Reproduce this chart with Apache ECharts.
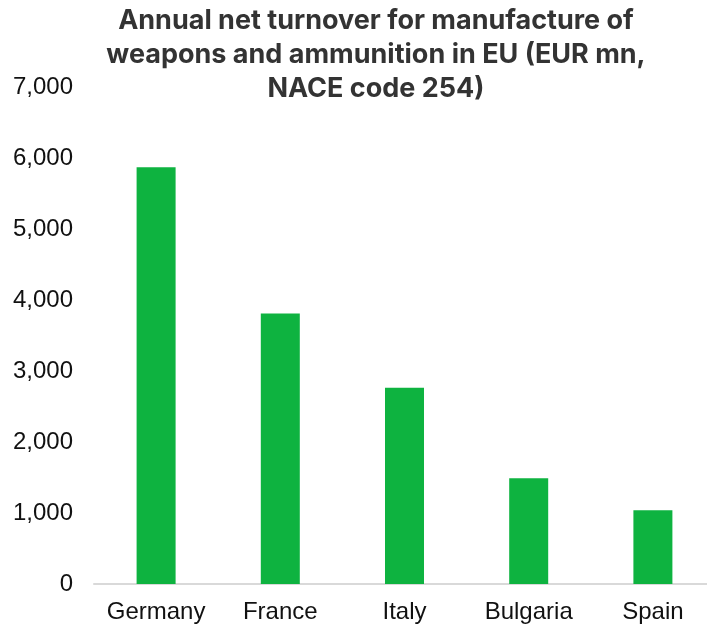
<!DOCTYPE html>
<html>
<head>
<meta charset="utf-8">
<script src="https://cdn.jsdelivr.net/npm/echarts@6/dist/echarts.min.js"></script>
<style>
  html, body { margin: 0; padding: 0; background: #ffffff; overflow: hidden; }
  /* plot area runs slightly past the right edge of the page */
  #chart { width: 715px; height: 628px; }
</style>
</head>
<body>
<div id="chart"></div>
<script>
// Annual net turnover, EUR mn (NACE 25.4)
const countries = ['Germany', 'France', 'Italy', 'Bulgaria', 'Spain'];
const turnover = [5870, 3810, 2765, 1490, 1040];
const yTicks = { min: 0, max: 7000, step: 1000 };

const chart = echarts.init(document.getElementById('chart'), null, { renderer: 'canvas' });

chart.setOption({
  animation: false,
  backgroundColor: '#ffffff',
  title: {
    text: 'Annual net turnover for manufacture of\nweapons and ammunition in EU (EUR mn,\nNACE code 254)',
    left: 376,
    top: 4,
    padding: 0,
    textAlign: 'center',
    textStyle: {
      fontFamily: 'Inter',
      fontWeight: 'bold',
      fontSize: 27,
      lineHeight: 34,
      color: '#333333'
    }
  },
  grid: {
    left: 94,
    top: 87,
    bottom: 44,
    right: 0,
    containLabel: false
  },
  xAxis: {
    type: 'category',
    data: countries,
    axisLine: { show: true, lineStyle: { color: '#d9d9d9', width: 2 } },
    axisTick: { show: false },
    axisLabel: {
      interval: 0,
      margin: 16,
      fontFamily: 'Liberation Sans, Arial, sans-serif',
      fontSize: 24,
      color: '#111111'
    }
  },
  yAxis: {
    type: 'value',
    min: yTicks.min,
    max: yTicks.max,
    interval: yTicks.step,
    axisLine: { show: false },
    axisTick: { show: false },
    splitLine: { show: false },
    axisLabel: {
      margin: 21,
      fontFamily: 'Liberation Sans, Arial, sans-serif',
      fontSize: 24,
      color: '#111111',
      padding: [0, 0, 8, 0],
      formatter: v => v.toLocaleString('en-US')
    }
  },
  series: [{
    type: 'bar',
    data: turnover,
    barWidth: 39,
    itemStyle: { color: '#0eb340' }
  }]
});
</script>
</body>
</html>
